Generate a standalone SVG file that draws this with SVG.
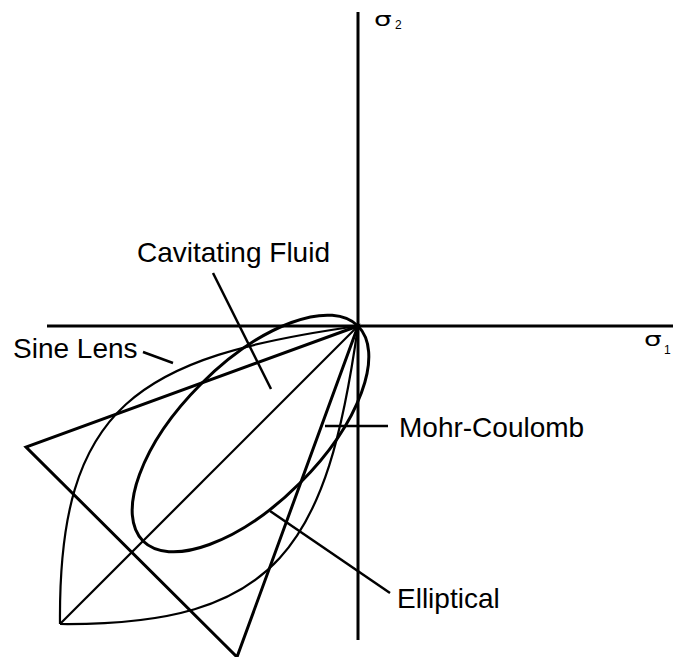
<svg xmlns="http://www.w3.org/2000/svg" width="673" height="657" viewBox="0 0 673 657">
<style>
.ax{stroke:#000;stroke-width:3;fill:none}
.cv{stroke:#000;stroke-width:2.2;fill:none}
.th{stroke:#000;stroke-width:3;fill:none;stroke-linejoin:miter}
.ld{stroke:#000;stroke-width:2.5;fill:none}
.lb{font-family:"Liberation Sans",Arial,sans-serif;font-size:28px;fill:#000}
.sg{font-family:"DejaVu Sans",sans-serif;fill:#000}
.sb{font-family:"Liberation Sans",Arial,sans-serif;fill:#000;font-size:12px}
</style>
<rect width="673" height="657" fill="#fff"/>
<g id="axes">
<line class="ax" x1="358" y1="12" x2="358" y2="640"/>
<line class="ax" x1="47" y1="326" x2="673" y2="326"/>
<text class="sg" font-size="20" transform="translate(374,26) scale(1.4,0.95)">σ</text>
<text class="sb" x="395" y="29">2</text>
<text class="sg" font-size="20" transform="translate(644,346) scale(1.4,0.95)">σ</text>
<text class="sb" x="664" y="354">1</text>
</g>
<g id="mohr-coulomb">
<polygon class="th" points="358,326 26,447 237,657"/>
</g>
<g id="cavitating-fluid">
<line class="cv" x1="358" y1="326" x2="60" y2="624"/>
</g>
<g id="sine-lens">
<path class="cv" d="M358,326 C138,357 58,405 60,624 M358,326 C327,546 279,626 60,624"/>
</g>
<g id="elliptical">
<ellipse class="th" cx="250.5" cy="433.5" rx="152" ry="70" transform="rotate(-45 250.5 433.5)" stroke-width="2.6"/>
</g>
<g id="connectors">
<line class="ld" x1="143" y1="352" x2="173" y2="363"/>
<line class="ld" x1="213" y1="273" x2="271" y2="389"/>
<line class="ld" x1="325" y1="426" x2="388" y2="426"/>
<line class="ld" x1="270" y1="511" x2="390" y2="593"/>
</g>
<g id="labels">
<text class="lb" x="13" y="358">Sine Lens</text>
<text class="lb" x="137" y="262">Cavitating Fluid</text>
<text class="lb" x="399" y="437">Mohr-Coulomb</text>
<text class="lb" x="397" y="608">Elliptical</text>
</g>
</svg>
